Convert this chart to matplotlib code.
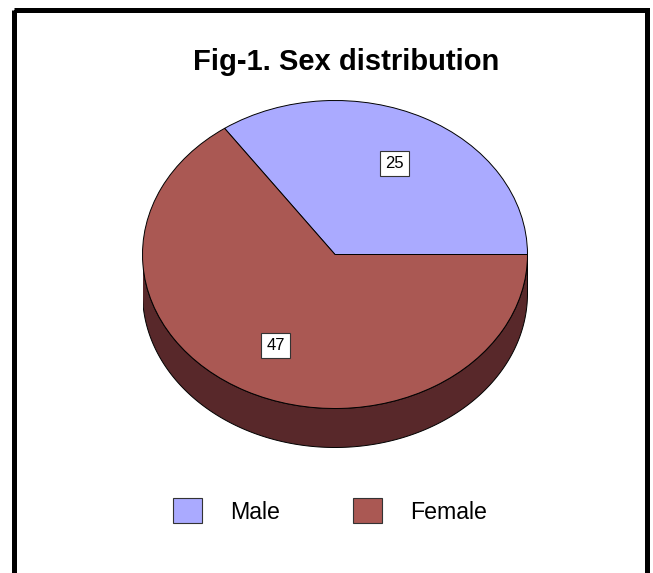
import numpy as np
import matplotlib
matplotlib.use("Agg")
import matplotlib.pyplot as plt
from matplotlib.patches import Patch, Rectangle

plt.rcParams["font.family"] = ["Liberation Sans", "DejaVu Sans"]

# data
labels = ["Male", "Female"]
counts = [25, 47]
title = "Fig-1. Sex distribution"

# colours
C_TOP = ["#AAAAFF", "#AA5853"]
C_SIDE = ["#55557F", "#58282A"]

W, H = 653, 573
fig = plt.figure(figsize=(W / 100, H / 100), dpi=100)

# border (pixel coords)
bg = fig.add_axes([0, 0, 1, 1])
bg.set_xlim(0, W)
bg.set_ylim(H, 0)
bg.axis("off")
bg.add_patch(Rectangle((14, 9.5), 633, 620, fill=False, ec="black",
                       lw=3.6, clip_on=False))

fig.text(346 / W, 1 - 62 / H, title, ha="center", va="center",
         fontsize=21, fontweight="bold")

# pie geometry in pixels: centre, radii, depth
cx, cy, rx, ry, depth = 335, 254.5, 192.5, 154, 39
d = depth / ry
ax = fig.add_axes([(cx - rx) / W, (H - (cy + ry + depth)) / H,
                   2 * rx / W, (2 * ry + depth) / H])
total = sum(counts)
wedges, _, autotexts = ax.pie(
    counts, colors=C_TOP, startangle=0, counterclock=True,
    autopct=lambda p: f"{round(p * total / 100)}", pctdistance=0.667,
    wedgeprops=dict(edgecolor="black", linewidth=0.7),
    textprops=dict(fontsize=12),
)
for t in autotexts:
    t.set_bbox(dict(boxstyle="square,pad=0.3", fc="white", ec="#333333",
                    lw=0.8))
    t.set_zorder(5)

# 3d side band for the front half of each wedge
for w, col in zip(wedges, C_SIDE):
    a0, a1 = max(w.theta1, 180), min(w.theta2, 360)
    if a1 <= a0:
        continue
    th = np.radians(np.linspace(a0, a1, 200))
    xs = np.concatenate([np.cos(th), np.cos(th[::-1])])
    ys = np.concatenate([np.sin(th), np.sin(th[::-1]) - d])
    ax.fill(xs, ys, color=col, ec="black", lw=0.7, zorder=0)

ax.set_aspect("auto")
ax.set_xlim(-1, 1)
ax.set_ylim(-1 - d, 1)
ax.axis("off")

handles = [Patch(fc=c, ec="#333333", lw=0.8) for c in C_TOP]
fig.legend(handles, labels, loc="center", ncol=2, frameon=False,
           bbox_to_anchor=(330 / W, 1 - 511 / H), fontsize=16.7,
           handlelength=1.25, handleheight=1.25, handletextpad=1.2,
           columnspacing=3.17)

fig.savefig("out.png", dpi=100)
